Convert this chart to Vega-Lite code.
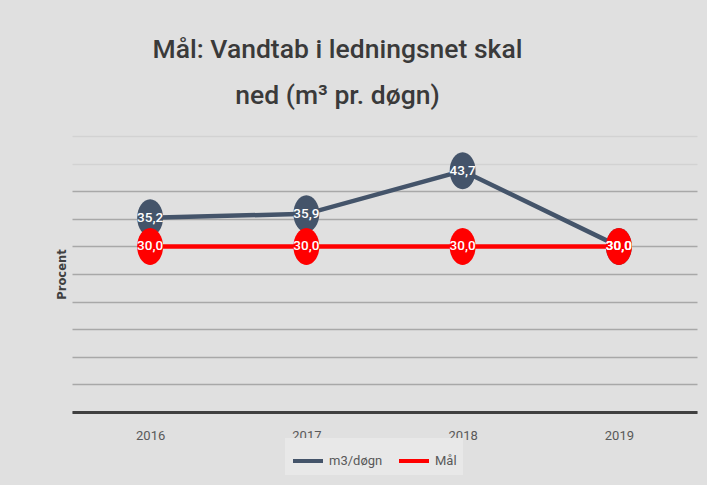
{
  "$schema": "https://vega.github.io/schema/vega-lite/v6.json",
  "width": 625,
  "height": 276,
  "autosize": {"type": "none"},
  "padding": {"left": 72, "top": 136, "right": 10, "bottom": 73},
  "background": "#e0e0e0",
  "title": {
    "text": ["Mål: Vandtab i ledningsnet skal", "ned (m³ pr. døgn)"],
    "font": "Roboto, sans-serif",
    "fontSize": 26.5,
    "fontWeight": 500,
    "color": "#3a3a3a",
    "anchor": "middle",
    "frame": "group",
    "dx": -47,
    "lineHeight": 46,
    "baseline": "bottom",
    "offset": 0
  },
  "config": {
    "view": {"stroke": null},
    "locale": {"number": {"decimal": ",", "thousands": ".", "grouping": [3], "currency": ["", " kr"]}}
  },
  "data": {
    "values": [
      {"year": "2016", "series": "m3/døgn", "value": 35.2},
      {"year": "2017", "series": "m3/døgn", "value": 35.9},
      {"year": "2018", "series": "m3/døgn", "value": 43.7},
      {"year": "2019", "series": "m3/døgn", "value": 30.0},
      {"year": "2016", "series": "Mål", "value": 30.0},
      {"year": "2017", "series": "Mål", "value": 30.0},
      {"year": "2018", "series": "Mål", "value": 30.0},
      {"year": "2019", "series": "Mål", "value": 30.0}
    ]
  },
  "encoding": {
    "x": {
      "field": "year",
      "type": "ordinal",
      "scale": {"type": "point", "padding": 0.5},
      "axis": {
        "title": null,
        "labelAngle": 0,
        "ticks": false,
        "domainColor": "#404040",
        "domainWidth": 3,
        "labelFont": "Roboto, sans-serif",
        "labelFontSize": 13,
        "labelColor": "#595959",
        "labelPadding": 17
      }
    },
    "y": {
      "field": "value",
      "type": "quantitative",
      "scale": {"domain": [0, 50], "nice": false},
      "axis": {
        "title": "Procent",
        "titleFont": "DejaVu Sans, sans-serif",
        "titleFontSize": 11.5,
        "titleFontWeight": "bold",
        "titleColor": "#404040",
        "titlePadding": 5,
        "labels": false,
        "ticks": false,
        "domain": false,
        "values": [0, 5, 10, 15, 20, 25, 30, 35, 40, 45, 50],
        "gridColor": {"condition": {"test": "datum.value >= 45", "value": "#d2d2d2"}, "value": "#a8a8a8"},
        "gridWidth": 1.5
      }
    },
    "color": {
      "field": "series",
      "type": "nominal",
      "scale": {"domain": ["m3/døgn", "Mål"], "range": ["#44546a", "#ff0000"]},
      "legend": {
        "title": null,
        "orient": "none",
        "direction": "horizontal",
        "legendX": 213,
        "legendY": 302,
        "symbolType": "stroke",
        "symbolStrokeWidth": 4,
        "symbolSize": 900,
        "labelFont": "Roboto, sans-serif",
        "labelFontSize": 13,
        "labelColor": "#595959",
        "fillColor": "#e8e8e8",
        "padding": 6,
        "columnPadding": 8,
        "labelOffset": 4
      }
    }
  },
  "layer": [
    {"mark": {"type": "line", "strokeWidth": 4.5}},
    {
      "mark": {
        "type": "point",
        "filled": true,
        "opacity": 1,
        "size": 1369,
        "shape": "M -0.7,0 A 0.7,1 0 1 1 0.7,0 A 0.7,1 0 1 1 -0.7,0 Z"
      }
    },
    {
      "mark": {
        "type": "text",
        "color": "white",
        "font": "Roboto, sans-serif",
        "fontSize": 13.5,
        "fontWeight": 500,
        "baseline": "middle",
        "align": "center"
      },
      "encoding": {
        "text": {"field": "value", "type": "quantitative", "format": ".1f"},
        "color": {"value": "white"}
      }
    }
  ]
}
